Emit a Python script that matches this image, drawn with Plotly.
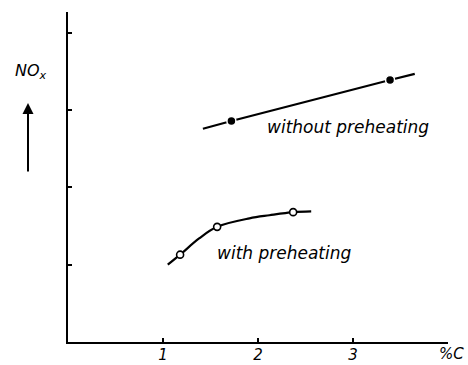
import plotly.graph_objects as go

# Data (NOx in arbitrary units vs %C)
without_x = [1.42, 1.72, 3.39, 3.65]
without_y = [2.76, 2.86, 3.39, 3.47]
without_pts_x = [1.72, 3.39]
without_pts_y = [2.86, 3.39]

with_x = [1.05, 1.18, 1.38, 1.57, 1.91, 2.12, 2.37, 2.56]
with_y = [1.00, 1.13, 1.34, 1.49, 1.60, 1.64, 1.68, 1.69]
with_pts_x = [1.18, 1.57, 2.37]
with_pts_y = [1.13, 1.49, 1.68]

x_ticks = [1, 2, 3]
x_tick_labels = ["1", "2", "3"]
y_ticks = [1, 2, 3, 4]

FONT = "DejaVu Sans"

fig = go.Figure()
fig.add_trace(go.Scatter(x=without_x, y=without_y, mode="lines",
                         line=dict(color="black", width=2.2), hoverinfo="skip"))
fig.add_trace(go.Scatter(x=without_pts_x, y=without_pts_y, mode="markers",
                         marker=dict(color="black", size=9, line=dict(color="white", width=1.5))))
fig.add_trace(go.Scatter(x=with_x, y=with_y, mode="lines",
                         line=dict(color="black", width=2.2, shape="spline", smoothing=1.0)))
fig.add_trace(go.Scatter(x=with_pts_x, y=with_pts_y, mode="markers",
                         marker=dict(color="white", size=7, line=dict(color="black", width=1.6))))

fig.update_layout(
    width=468, height=365,
    margin=dict(l=68, r=20, t=12, b=23, autoexpand=False),
    paper_bgcolor="white", plot_bgcolor="white",
    showlegend=False,
    font=dict(family=FONT, color="black", size=16),
    xaxis=dict(range=[0, 4], showgrid=False, zeroline=False, automargin=False,
               showline=True, linecolor="black", linewidth=2,
               tickmode="array", tickvals=x_ticks, ticktext=x_tick_labels,
               ticks="inside", ticklen=4, tickwidth=1.5, tickcolor="black",
               ticklabelstandoff=-2,
               tickfont=dict(family=FONT, size=15, style="italic")),
    yaxis=dict(range=[0, 4.27], showgrid=False, zeroline=False, automargin=False,
               showline=True, linecolor="black", linewidth=2,
               tickmode="array", tickvals=y_ticks, showticklabels=False,
               ticks="inside", ticklen=4, tickwidth=1.5, tickcolor="black"),
)

fig.add_annotation(x=2.07, y=2.78, xref="x", yref="y", text="without preheating",
                   showarrow=False, xanchor="left", yanchor="middle",
                   font=dict(family=FONT, size=17, style="italic"))
fig.add_annotation(x=1.55, y=1.15, xref="x", yref="y", text="with preheating",
                   showarrow=False, xanchor="left", yanchor="middle",
                   font=dict(family=FONT, size=17, style="italic"))
fig.add_annotation(x=1.0, y=0, xref="paper", yref="paper", text="%C",
                   showarrow=False, xanchor="center", yanchor="top", xshift=3, yshift=-1,
                   font=dict(family=FONT, size=15, style="italic"))
fig.add_annotation(x=(31 - 68) / 380, y=(342 - 71) / 330, xref="paper", yref="paper",
                   text="NO<sub>x</sub>", showarrow=False, xanchor="center", yanchor="middle",
                   font=dict(family=FONT, size=16, style="italic"))
fig.add_annotation(x=(28 - 68) / 380, y=(342 - 103) / 330, xref="paper", yref="paper",
                   ax=0, ay=70, axref="pixel", ayref="pixel",
                   text="", showarrow=True, arrowhead=2, arrowsize=1.1, arrowwidth=2,
                   arrowcolor="black")

fig.write_html("out.html", config={"displayModeBar": False},
               post_script="document.body.style.margin='0px';")
